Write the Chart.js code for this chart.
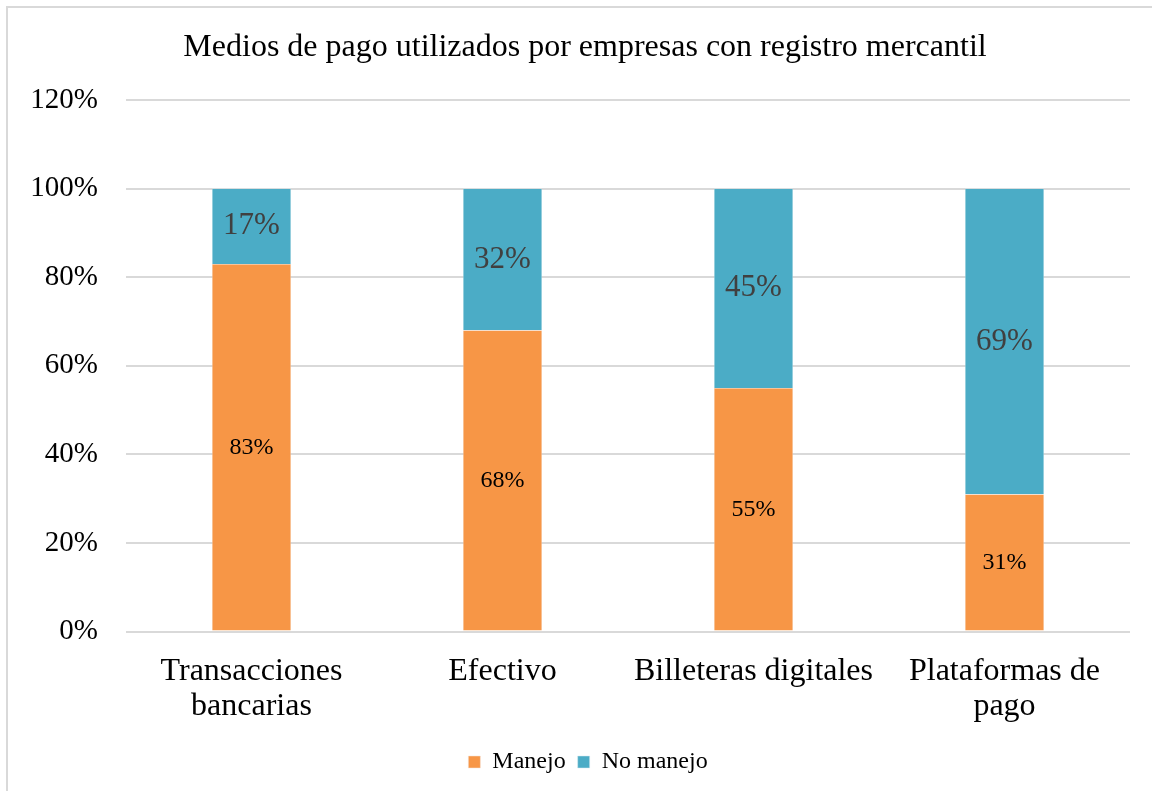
<!DOCTYPE html>
<html>
<head>
    <title>Medios de pago</title>
    <script src="https://cdn.jsdelivr.net/npm/chart.js"></script>
    <style>
        html, body { margin: 0; padding: 0; background: #fff; }
        #wrap { width: 1152px; height: 791px; }
    </style>
</head>
<body>
    <div id="wrap"><canvas id="pagoChart" width="1152" height="791"></canvas></div>

    <script>
        // data
        var categories = [['Transacciones', 'bancarias'], 'Efectivo', 'Billeteras digitales', ['Plataformas de', 'pago']];
        var manejo = [83, 68, 55, 31];
        var noManejo = [17, 32, 45, 69];
        var yTicks = [0, 20, 40, 60, 80, 100, 120];
        var titleText = 'Medios de pago utilizados por empresas con registro mercantil';

        var serif = "'Liberation Serif', 'Times New Roman', serif";

        // outer frame and the title (title sits a bit right of the canvas centre)
        var framePlugin = {
            id: 'frame',
            beforeDraw: function(chart) {
                // legend is centred a little right in the original too
                if (chart.legend) {
                    chart.legend.left = 24;
                    chart.legend.right = 1152;
                }
                var c = chart.ctx;
                c.save();
                c.strokeStyle = '#d9d9d9';
                c.lineWidth = 2;
                c.beginPath();
                c.moveTo(7, 800);
                c.lineTo(7, 7);
                c.lineTo(1160, 7);
                c.stroke();
                c.font = '32px ' + serif;
                c.fillStyle = '#000';
                c.textAlign = 'center';
                c.textBaseline = 'middle';
                c.fillText(titleText, 585, 48);
                c.restore();
            }
        };

        // value labels in the middle of each bar piece
        var labelPlugin = {
            id: 'barLabels',
            afterDatasetsDraw: function(chart) {
                var c = chart.ctx;
                c.save();
                c.textAlign = 'center';
                c.textBaseline = 'middle';
                chart.data.datasets.forEach(function(ds, i) {
                    var meta = chart.getDatasetMeta(i);
                    meta.data.forEach(function(bar, j) {
                        var mid = (bar.y + bar.base) / 2;
                        if (i === 0) {
                            c.font = '24px ' + serif;
                            c.fillStyle = '#000000';
                        } else {
                            c.font = '31px ' + serif;
                            c.fillStyle = '#404040';
                        }
                        c.fillText(ds.data[j] + '%', bar.x, mid);
                    });
                });
                c.restore();
            }
        };

        var ctx = document.getElementById('pagoChart').getContext('2d');
        var chart = new Chart(ctx, {
            type: 'bar',
            data: {
                labels: categories,
                datasets: [{
                    label: 'Manejo',
                    data: manejo,
                    backgroundColor: '#F79646',
                    borderColor: '#f3e3d8',
                    borderWidth: 0.5
                }, {
                    label: 'No manejo',
                    data: noManejo,
                    backgroundColor: '#4BACC6',
                    borderColor: '#d6ebf1',
                    borderWidth: 0.5
                }]
            },
            options: {
                responsive: false,
                animation: false,
                layout: { padding: { left: 0, right: 22, top: 100, bottom: 7 } },
                datasets: {
                    bar: { barPercentage: 0.63, categoryPercentage: 0.5 }
                },
                plugins: {
                    title: { display: false },
                    legend: {
                        position: 'bottom',
                        labels: {
                            color: '#000',
                            font: { family: serif, size: 24 },
                            boxWidth: 12,
                            boxHeight: 12,
                            padding: 12
                        }
                    },
                    tooltip: { enabled: false }
                },
                scales: {
                    x: {
                        stacked: true,
                        grid: { display: false },
                        border: { display: false },
                        ticks: {
                            color: '#000',
                            font: { family: serif, size: 32, lineHeight: 1.1 },
                            maxRotation: 0,
                            autoSkip: false,
                            padding: 14
                        }
                    },
                    y: {
                        stacked: true,
                        min: 0,
                        max: 120,
                        afterBuildTicks: function(axis) {
                            axis.ticks = yTicks.map(function(v) { return { value: v }; });
                        },
                        afterFit: function(axis) { axis.width = 126; },
                        grid: { color: '#d9d9d9', lineWidth: 2, drawTicks: false },
                        border: { display: false },
                        ticks: {
                            color: '#000',
                            font: { family: serif, size: 29 },
                            padding: 28,
                            callback: function(v) { return v + '%'; }
                        }
                    }
                }
            },
            plugins: [framePlugin, labelPlugin]
        });
    </script>
</body>
</html>
